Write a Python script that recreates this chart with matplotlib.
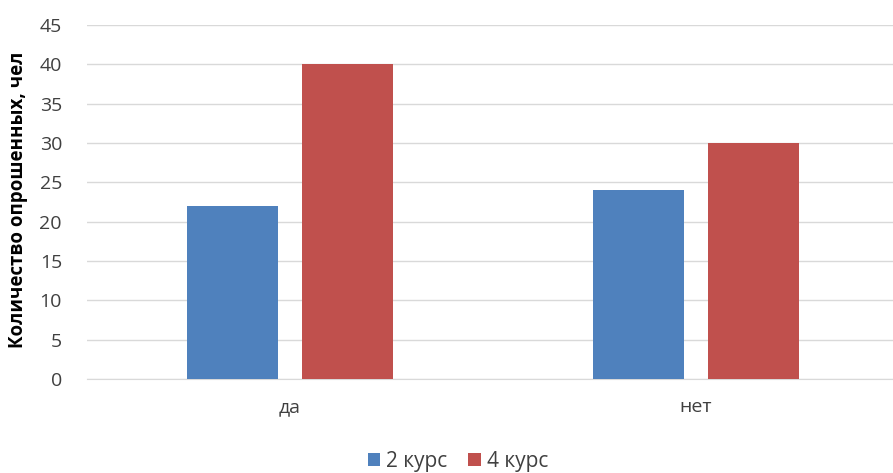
import matplotlib
matplotlib.use("Agg")
import matplotlib.pyplot as plt
import numpy as np

categories = ["да", "нет"]
series_names = ["2 курс", "4 курс"]
values_2 = [22, 24]
values_4 = [40, 30]
yticks = [0, 5, 10, 15, 20, 25, 30, 35, 40, 45]

plt.rcParams['font.family'] = ['Open Sans', 'DejaVu Sans']

fig = plt.figure(figsize=(8.93, 4.73), dpi=100)
ax = fig.add_axes([87/893, 1-379/473, 806/893, (379-25)/473])

x = np.arange(len(categories))
w = 0.224
ax.bar(x - 0.142, values_2, width=w, color="#4F81BD", label=series_names[0], zorder=3)
ax.bar(x + 0.142, values_4, width=w, color="#C0504D", label=series_names[1], zorder=3)

ax.set_xlim(-0.5, -0.5 + 806/406)
ax.set_ylim(0, 45)
ax.set_yticks(yticks)
ax.set_yticklabels([str(t) for t in yticks], fontsize=14, color="#404040")
ax.set_xticks(x)
ax.set_xticklabels(categories, fontsize=14, color="#404040")
ax.tick_params(axis='both', length=0)
ax.tick_params(axis='y', pad=18)
ax.tick_params(axis='x', pad=14)
ax.grid(axis='y', color="#D9D9D9", linewidth=1, zorder=0)
for s in ["top", "right", "left"]:
    ax.spines[s].set_visible(False)
ax.spines["bottom"].set_color("#D9D9D9")

fig.text(18/893, 1-200/473, "Количество опрошенных, чел", rotation=90,
         ha="center", va="center", fontsize=13.5, fontweight="bold", color="#000000")

fig.legend(loc="center", bbox_to_anchor=(458/893, 1-461/473), ncol=2, frameon=False,
           fontsize=15, handlelength=0.6, handleheight=0.6, handletextpad=0.3,
           columnspacing=1.0, labelcolor="#404040")

fig.savefig("out.png", dpi=100)
